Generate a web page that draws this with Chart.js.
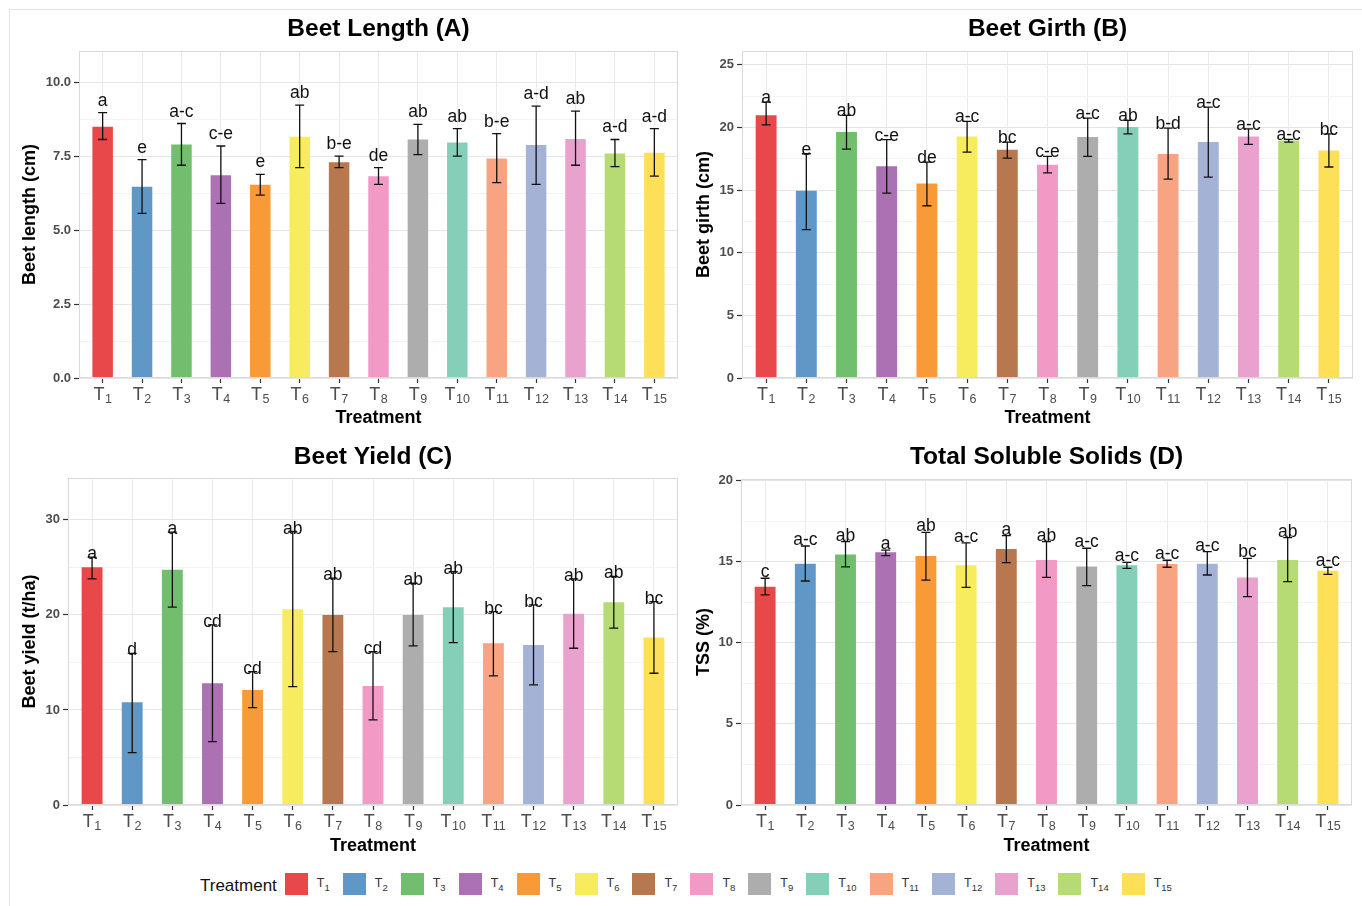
<!DOCTYPE html>
<html>
<head>
<meta charset="utf-8">
<script src="https://cdn.jsdelivr.net/npm/chart.js@4.4.0/dist/chart.umd.min.js"></script>
<style>
    body { margin: 0; background: #fff; width: 1362px; height: 906px; overflow: hidden; position: relative;
           font-family: "Liberation Sans", Arial, sans-serif; }
    .frame { position: absolute; left: 9px; top: 9px; width: 1400px; height: 1000px; border: 1px solid #e3e3e3; }
    canvas { position: absolute; }
    #legend { position: absolute; left: 200px; top: 873px; height: 22px; display: flex; align-items: center; }
    #legend .lt { font-size: 17px; color: #111; margin-right: 8px; position: relative; top: 2px; }
    #legend .key { width: 23px; height: 22px; margin-right: 9px; }
    #legend .kl { font-size: 12.5px; color: #333; margin-right: 13px; }
    #legend .kl sub { font-size: 9.5px; }
</style>
</head>
<body>
<div class="frame"></div>
<canvas id="chart-a" width="672" height="420" style="left:10px;top:10px"></canvas>
<canvas id="chart-b" width="680" height="420" style="left:682px;top:10px"></canvas>
<canvas id="chart-c" width="672" height="420" style="left:10px;top:440px"></canvas>
<canvas id="chart-d" width="680" height="420" style="left:682px;top:440px"></canvas>
<div id="legend"></div>
<script>
const treatments = [1, 2, 3, 4, 5, 6, 7, 8, 9, 10, 11, 12, 13, 14, 15];
const barColors = [
    "#e9484a", "#5f98c6", "#71bf6e", "#ab71b3", "#f89a38",
    "#f6ec5e", "#b7774f", "#f29ac6", "#adadad", "#85ceb7",
    "#f8a381", "#a3b2d5", "#e9a1cd", "#b6da74", "#fde058"
];

// Beet length (cm)
const lengthMean = [8.49, 6.46, 7.89, 6.85, 6.53, 8.15, 7.29, 6.82, 8.06, 7.96, 7.42, 7.87, 8.08, 7.59, 7.61];
const lengthHigh = [8.97, 7.38, 8.60, 7.84, 6.88, 9.22, 7.50, 7.11, 8.57, 8.43, 8.26, 9.19, 9.02, 8.06, 8.43];
const lengthLow  = [8.06, 5.56, 7.19, 5.90, 6.18, 7.11, 7.11, 6.54, 7.55, 7.50, 6.60, 6.54, 7.19, 7.14, 6.82];
const lengthLetters = ["a", "e", "a-c", "c-e", "e", "ab", "b-e", "de", "ab", "ab", "b-e", "a-d", "ab", "a-d", "a-d"];

// Beet girth (cm)
const girthMean = [20.98, 14.95, 19.63, 16.91, 15.53, 19.28, 18.22, 17.02, 19.23, 20.03, 17.87, 18.83, 19.28, 18.96, 18.16];
const girthHigh = [22.02, 17.90, 20.96, 19.02, 17.23, 20.48, 18.83, 17.69, 20.74, 20.56, 19.95, 21.62, 19.89, 19.04, 19.49];
const girthLow  = [20.21, 11.84, 18.27, 14.76, 13.75, 18.03, 17.55, 16.38, 17.69, 19.49, 15.88, 16.04, 18.64, 18.83, 16.84];
const girthLetters = ["a", "e", "ab", "c-e", "de", "a-c", "bc", "c-e", "a-c", "ab", "b-d", "a-c", "a-c", "a-c", "bc"];

// Beet yield (t/ha)
const yieldMean = [25.02, 10.81, 24.74, 12.81, 12.11, 20.60, 20.00, 12.53, 20.00, 20.81, 17.02, 16.84, 20.11, 21.33, 17.61];
const yieldHigh = [26.07, 15.96, 28.70, 18.95, 14.04, 28.77, 23.86, 16.14, 23.33, 24.56, 20.35, 21.05, 23.79, 24.04, 21.40];
const yieldLow  = [23.79, 5.51, 20.81, 6.67, 10.25, 12.46, 16.14, 8.95, 16.74, 17.09, 13.58, 12.63, 16.49, 18.60, 13.86];
const yieldLetters = ["a", "d", "a", "cd", "cd", "ab", "ab", "cd", "ab", "ab", "bc", "bc", "ab", "ab", "bc"];

// Total soluble solids (%)
const tssMean = [13.46, 14.88, 15.44, 15.58, 15.35, 14.78, 15.79, 15.11, 14.70, 14.78, 14.86, 14.88, 14.02, 15.11, 14.45];
const tssHigh = [13.98, 15.97, 16.24, 15.72, 16.81, 16.16, 16.61, 16.24, 15.83, 14.96, 15.09, 15.62, 15.21, 16.49, 14.66];
const tssLow  = [12.95, 13.81, 14.68, 15.38, 13.87, 13.42, 14.94, 14.04, 13.53, 14.59, 14.66, 14.18, 12.85, 13.77, 14.22];
const tssLetters = ["c", "a-c", "ab", "a", "ab", "a-c", "a", "ab", "a-c", "a-c", "a-c", "a-c", "bc", "ab", "a-c"];

const FONT = '"Liberation Sans", Arial, sans-serif';
Chart.defaults.font.family = FONT;

const extras = {
    id: "extras",
    afterDatasetsDraw(chart, args, opts) {
        const ctx = chart.ctx;
        const xs = chart.scales.x, ys = chart.scales.y;
        ctx.save();
        // error bars
        ctx.strokeStyle = "#111";
        ctx.lineWidth = 1.3;
        for (let i = 0; i < treatments.length; i++) {
            const x = xs.getPixelForValue(treatments[i]);
            const yh = ys.getPixelForValue(opts.high[i]);
            const yl = ys.getPixelForValue(opts.low[i]);
            ctx.beginPath();
            ctx.moveTo(x, yh); ctx.lineTo(x, yl);
            ctx.moveTo(x - 4.5, yh); ctx.lineTo(x + 4.5, yh);
            ctx.moveTo(x - 4.5, yl); ctx.lineTo(x + 4.5, yl);
            ctx.stroke();
        }
        // panel border
        const a = chart.chartArea;
        ctx.strokeStyle = "#d9d9d9";
        ctx.lineWidth = 1;
        ctx.strokeRect(a.left + 0.5, a.top + 0.5, a.right - a.left - 1, a.bottom - a.top - 1);
        // letters
        ctx.fillStyle = "#111";
        ctx.font = "17.5px " + FONT;
        ctx.textAlign = "center";
        ctx.textBaseline = "alphabetic";
        for (let i = 0; i < treatments.length; i++) {
            const x = xs.getPixelForValue(treatments[i]);
            ctx.fillText(opts.letters[i], x, ys.getPixelForValue(opts.high[i]) + opts.letterShift);
        }
        ctx.restore();
    },
    afterDraw(chart, args, opts) {
        const ctx = chart.ctx;
        const xs = chart.scales.x;
        const a = chart.chartArea;
        ctx.save();
        ctx.fillStyle = "#000";
        ctx.font = "bold 24.5px " + FONT;
        ctx.textAlign = "center";
        ctx.textBaseline = "middle";
        ctx.fillText(opts.title, (a.left + a.right) / 2, opts.titleY);
        // x tick labels T with subscript
        ctx.fillStyle = "#4d4d4d";
        ctx.textAlign = "left";
        ctx.textBaseline = "alphabetic";
        for (let i = 0; i < treatments.length; i++) {
            const x = xs.getPixelForValue(treatments[i]);
            ctx.font = "18px " + FONT;
            const wT = ctx.measureText("T").width;
            ctx.font = "12.5px " + FONT;
            const sub = String(treatments[i]);
            const wS = ctx.measureText(sub).width;
            const start = x - (wT + wS + 0.5) / 2;
            ctx.font = "18px " + FONT;
            ctx.fillText("T", start, a.bottom + 22);
            ctx.font = "12.5px " + FONT;
            ctx.fillText(sub, start + wT + 0.5, a.bottom + 25);
        }
        ctx.restore();
    }
};

function makePanel(canvasId, cfg) {
    const step = cfg.major / 2;
    const isMajor = function(v) {
        return Math.abs(v / cfg.major - Math.round(v / cfg.major)) < 1e-6;
    };
    const points = treatments.map(function(t, i) { return { x: t, y: cfg.mean[i] }; });
    return new Chart(document.getElementById(canvasId), {
        type: "bar",
        data: {
            datasets: [{
                data: points,
                backgroundColor: barColors,
                borderWidth: 0,
                barPercentage: 0.52,
                categoryPercentage: 1
            }]
        },
        options: {
            responsive: false,
            animation: false,
            layout: { padding: cfg.padding },
            plugins: {
                legend: { display: false },
                tooltip: { enabled: false },
                extras: {
                    title: cfg.title, titleY: cfg.titleY,
                    high: cfg.high, low: cfg.low, letters: cfg.letters,
                    letterShift: cfg.letterShift
                }
            },
            scales: {
                x: {
                    type: "linear",
                    min: 0.4,
                    max: 15.6,
                    offset: false,
                    ticks: { stepSize: 1, includeBounds: false, autoSkip: false, padding: 0,
                             callback: function() { return ""; } },
                    grid: { offset: false, color: "#ebebeb", lineWidth: 1,
                            tickColor: "#333", tickLength: 5, tickWidth: 1.2 },
                    border: { display: false },
                    title: { display: true, text: "Treatment", color: "#000",
                             font: { size: 18, weight: "bold", lineHeight: 1 },
                             padding: { top: 0, bottom: cfg.xTitlePad } },
                    afterFit: function(s) { s.height = cfg.xh; }
                },
                y: {
                    min: 0,
                    max: cfg.yMax,
                    ticks: {
                        stepSize: step, includeBounds: false, autoSkip: false, padding: 3,
                        color: "#4d4d4d",
                        font: { size: 13, weight: "bold" },
                        callback: function(v) { return isMajor(v) ? v.toFixed(cfg.decimals) : ""; }
                    },
                    grid: {
                        color: function(c) { return c.tick && isMajor(c.tick.value) ? "#e6e6e6" : "#f3f3f3"; },
                        tickColor: function(c) { return c.tick && isMajor(c.tick.value) ? "#333" : "rgba(0,0,0,0)"; },
                        tickLength: 5, tickWidth: 1.2, lineWidth: 1
                    },
                    border: { display: false },
                    title: { display: true, text: cfg.yTitle, color: "#000",
                             font: { size: 18, weight: "bold", lineHeight: 1 },
                             padding: { top: 0, bottom: 0 } },
                    afterFit: function(s) { s.width = cfg.yw; }
                }
            }
        },
        plugins: [extras]
    });
}

makePanel("chart-a", {
    title: "Beet Length (A)", titleY: 19, yTitle: "Beet length (cm)",
    mean: lengthMean, high: lengthHigh, low: lengthLow, letters: lengthLetters, letterShift: -7,
    yMax: 11.05, major: 2.5, decimals: 1,
    padding: { left: 11, top: 41, right: 4, bottom: 0 }, yw: 58, xh: 52, xTitlePad: 3
});
makePanel("chart-b", {
    title: "Beet Girth (B)", titleY: 19, yTitle: "Beet girth (cm)",
    mean: girthMean, high: girthHigh, low: girthLow, letters: girthLetters, letterShift: 1,
    yMax: 26.1, major: 5, decimals: 0,
    padding: { left: 13, top: 41, right: 9, bottom: 0 }, yw: 47, xh: 52, xTitlePad: 3
});
makePanel("chart-c", {
    title: "Beet Yield (C)", titleY: 17, yTitle: "Beet yield (t/ha)",
    mean: yieldMean, high: yieldHigh, low: yieldLow, letters: yieldLetters, letterShift: 2,
    yMax: 34.4, major: 10, decimals: 0,
    padding: { left: 11, top: 38, right: 4, bottom: 0 }, yw: 47, xh: 55, xTitlePad: 5
});
makePanel("chart-d", {
    title: "Total Soluble Solids (D)", titleY: 17, yTitle: "TSS (%)",
    mean: tssMean, high: tssHigh, low: tssLow, letters: tssLetters, letterShift: -1,
    yMax: 20.1, major: 5, decimals: 0,
    padding: { left: 13, top: 39, right: 10, bottom: 0 }, yw: 46, xh: 55, xTitlePad: 5
});

const legend = document.getElementById("legend");
let html = '<span class="lt">Treatment</span>';
treatments.forEach(function(t, i) {
    html += '<span class="key" style="background:' + barColors[i] + '"></span>' +
            '<span class="kl">T<sub>' + t + '</sub></span>';
});
legend.innerHTML = html;
</script>
</body>
</html>
